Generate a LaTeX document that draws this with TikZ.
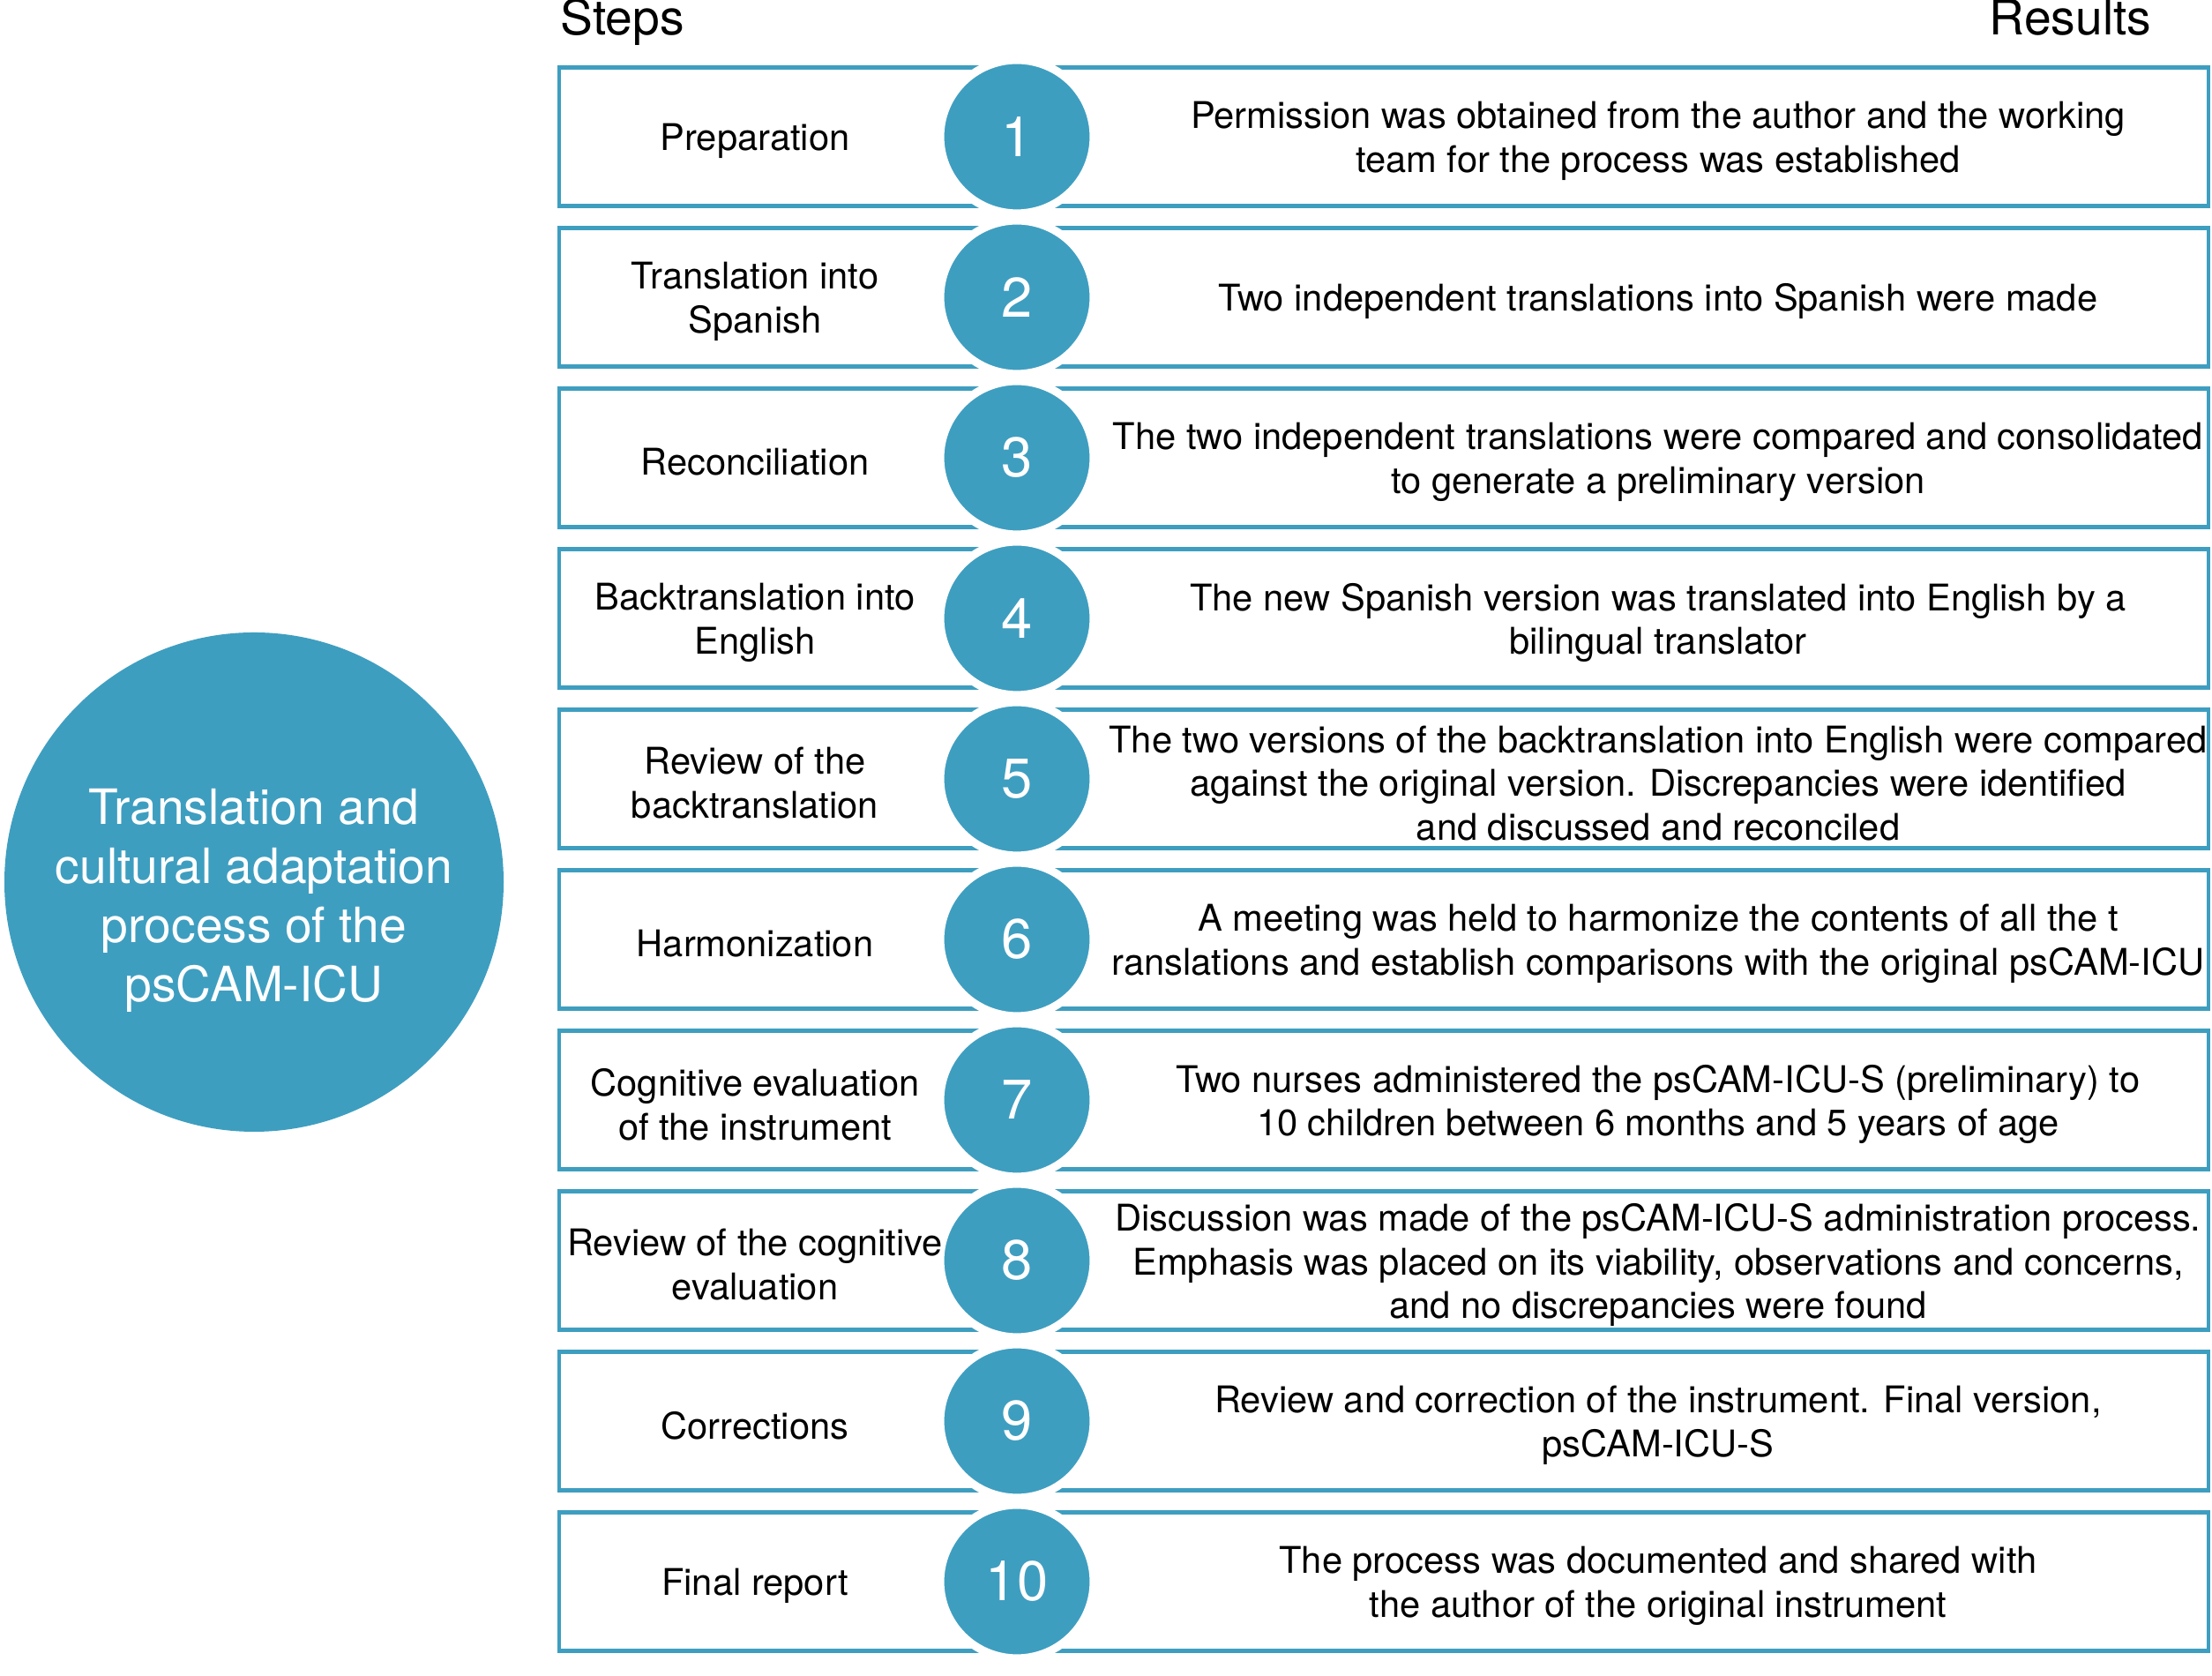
\documentclass[tikz,border=0pt]{standalone}
\usepackage{fontspec}
\setmainfont{TeX Gyre Heros}
\definecolor{pscblue}{RGB}{62,158,192}
\tikzset{
  rowbox/.style={draw=pscblue, line width=1.2pt, minimum width=18.7cm, minimum height=1.57cm, inner sep=0pt},
  numdot/.style={circle, fill=pscblue, draw=white, line width=2.6pt, minimum size=1.74cm, inner sep=0pt, text=white, font=\fontsize{18}{20}\selectfont},
  txt/.style={align=center, font=\fontsize{11.85}{14.2}\selectfont},
}
\begin{document}
\begin{tikzpicture}
	\useasboundingbox (0,0) rectangle (25.08,19);
	% big circle on the left
	\node[circle, fill=pscblue, minimum size=5.66cm, inner sep=0pt] (main) at (2.88,9.0) {};
	\node[text=white, align=center, font=\fontsize{15.7}{19}\selectfont] (title) at (2.88,8.79) {Translation and\\cultural adaptation\\process of the\\psCAM-ICU};
	% headings
	\node[anchor=base west, font=\fontsize{15.7}{18}\selectfont, inner sep=0pt] (steps) at (6.35,18.60) {Steps};
	\node[anchor=base east, font=\fontsize{15.7}{18}\selectfont, inner sep=0pt] (results) at (24.40,18.60) {Results};
	% rows
	\foreach \i/\s/\r in {
		1/Preparation/{Permission was obtained from the author and the working\\team for the process was established},
		2/{Translation into\\Spanish}/{Two independent translations into Spanish were made},
		3/Reconciliation/{The two independent translations were compared and consolidated\\to generate a preliminary version},
		4/{Backtranslation into\\English}/{The new Spanish version was translated into English by a\\bilingual translator},
		5/{Review of the\\backtranslation}/{The two versions of the backtranslation into English were compared\\against the original version. Discrepancies were identified\\and discussed and reconciled},
		6/Harmonization/{A meeting was held to harmonize the contents of all the t\\ranslations and establish comparisons with the original psCAM-ICU},
		7/{Cognitive evaluation\\of the instrument}/{Two nurses administered the psCAM-ICU-S (preliminary) to\\10 children between 6 months and 5 years of age},
		8/{Review of the cognitive\\evaluation}/{Discussion was made of the psCAM-ICU-S administration process.\\Emphasis was placed on its viability, observations and concerns,\\and no discrepancies were found},
		9/Corrections/{Review and correction of the instrument. Final version,\\psCAM-ICU-S},
		10/{Final report}/{The process was documented and shared with\\the author of the original instrument}}
	{
		\pgfmathsetmacro\y{17.45-1.82*(\i-1)}
		\node[rowbox] (box\i) at (15.69,\y) {};
		\node[numdot] (num\i) at (11.53,\y) {\i};
		\node[txt] (step\i) at (8.56,\y-0.05) {\s};
		\node[txt] (res\i) at (18.80,\y-0.05) {\r};
	}
\end{tikzpicture}
\end{document}
